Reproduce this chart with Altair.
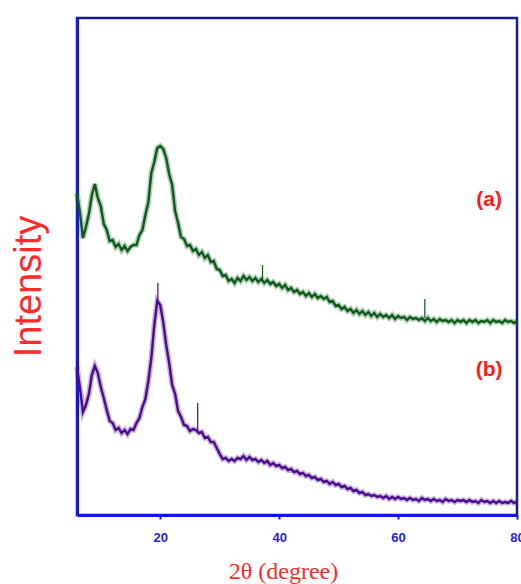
import altair as alt
import numpy as np
import pandas as pd

# 2-theta sampling grid (degrees)
two_theta = np.arange(6.0, 80.01, 0.5)

# Diffraction intensity (a.u.) of sample (a)
intensity_a = [
    322, 302, 277, 288, 301, 320, 331, 317, 309, 291,
    285, 274, 275, 268, 271, 265, 269, 264, 268, 270,
    270, 280, 285, 300, 313, 342, 353, 367, 369, 366,
    357, 341, 330, 304, 292, 278, 276, 269, 270, 264,
    266, 260, 263, 257, 260, 253, 254, 246, 245, 239,
    240, 234, 236, 232, 237, 234, 239, 235, 238, 234,
    237, 233, 236, 232, 235, 231, 233, 229, 231, 227,
    230, 225, 227, 223, 225, 221, 223, 219, 222, 218,
    221, 217, 219, 216, 218, 213, 214, 209, 210, 206,
    208, 204, 206, 202, 205, 201, 204, 200, 203, 199,
    202, 198, 201, 198, 200, 197, 200, 196, 199, 197,
    198, 195, 198, 196, 197, 195, 197, 194, 197, 194,
    196, 193, 196, 194, 195, 193, 195, 192, 195, 193,
    195, 192, 195, 193, 195, 192, 194, 193, 195, 192,
    195, 193, 194, 192, 195, 193, 194, 192, 194,
]

# Diffraction intensity (a.u.) of sample (b)
intensity_b = [
    148, 127, 103, 110, 121, 140, 149, 142, 128, 117,
    105, 94, 92, 85, 87, 82, 85, 81, 86, 85,
    92, 97, 108, 116, 134, 157, 190, 214, 210, 193,
    170, 152, 130, 121, 104, 98, 90, 89, 84, 86,
    85, 82, 83, 77, 78, 73, 73, 67, 61, 56,
    57, 54, 56, 54, 57, 56, 59, 55, 58, 55,
    56, 53, 55, 52, 54, 50, 52, 49, 50, 47,
    48, 45, 46, 43, 44, 41, 42, 39, 40, 37,
    38, 35, 36, 33, 34, 31, 33, 30, 31, 28,
    29, 26, 27, 24, 25, 22, 23, 20, 21, 19,
    20, 18, 19, 17, 19, 16, 18, 16, 18, 16,
    17, 15, 17, 15, 16, 14, 17, 15, 16, 14,
    16, 14, 15, 13, 16, 14, 15, 13, 15, 14,
    15, 13, 15, 13, 14, 12, 15, 13, 14, 12,
    14, 12, 14, 12, 13, 12, 14, 12, 13,
]

# Sharp single-point spikes in each pattern
spike_series = ["a", "a", "b", "b"]
spike_x = [37.2, 64.5, 26.3, 19.6]
spike_low = [236, 197, 83, 212]
spike_high = [250, 216, 112, 232]

# Curve labels
label_series = ["a", "b"]
label_text = ["(a)", "(b)"]
label_x = [75.3, 75.3]
label_y = [315, 145]

series_names = ["a", "b"]
series_colors = ["#0d5a1a", "#4a0c8c"]

patterns = pd.DataFrame({
    "two_theta": np.concatenate([two_theta, two_theta]),
    "intensity": intensity_a + intensity_b,
    "sample": ["a"] * len(intensity_a) + ["b"] * len(intensity_b),
})
spikes = pd.DataFrame({"sample": spike_series, "two_theta": spike_x,
                       "low": spike_low, "high": spike_high})
labels = pd.DataFrame({"sample": label_series, "text": label_text,
                       "two_theta": label_x, "intensity": label_y})

x_scale = alt.Scale(domain=[6, 80], nice=False, zero=False)
y_scale = alt.Scale(domain=[0, 497], nice=False, zero=False)
color = alt.Color("sample:N", scale=alt.Scale(domain=series_names, range=series_colors), legend=None)

x_axis = alt.Axis(
    values=[20, 40, 60, 80], grid=False, title="2θ (degree)",
    titleFont="Liberation Serif", titleFontSize=24, titleFontWeight="normal",
    titleColor="#ff2a2a", titleX=206, titleY=63, titleAlign="center",
    titleBaseline="alphabetic",
    labelFont="Liberation Sans", labelFontSize=13, labelFontWeight="bold",
    labelColor="#2424e0", labelPadding=12, labelFlush=False,
    domainColor="#1414e0", domainWidth=3, tickColor="#1414e0", tickSize=4, tickWidth=2,
)
y_axis = alt.Axis(
    labels=False, ticks=False, grid=False, title="Intensity",
    titleFont="Liberation Sans", titleFontSize=38, titleFontWeight="normal",
    titleColor="#ff2a2a", titleX=-37, titleY=268, titleAlign="center",
    titleBaseline="alphabetic", titleAngle=270,
    domainColor="#1414e0", domainWidth=3,
)

# soft outer band that gives the noisy trace its thickness
halo = alt.Chart(patterns).mark_line(strokeWidth=5.5, opacity=0.3, strokeJoin="miter").encode(
    x=alt.X("two_theta:Q", scale=x_scale, axis=x_axis),
    y=alt.Y("intensity:Q", scale=y_scale, axis=y_axis),
    color=color,
    detail="sample:N",
)

lines = alt.Chart(patterns).mark_line(strokeWidth=2.4, strokeJoin="miter").encode(
    x=alt.X("two_theta:Q", scale=x_scale),
    y=alt.Y("intensity:Q", scale=y_scale),
    color=color,
    detail="sample:N",
)

spike_rules = alt.Chart(spikes).mark_rule(strokeWidth=1.2).encode(
    x="two_theta:Q",
    y="low:Q",
    y2="high:Q",
    color=color,
)

label_marks = alt.Chart(labels).mark_text(
    font="Liberation Sans", fontSize=21, fontWeight="bold", color="#ff1a1a",
    align="center", baseline="middle",
).encode(x="two_theta:Q", y="intensity:Q", text="text:N")

chart = alt.layer(halo, lines, spike_rules, label_marks).properties(
    width=440, height=497,
    autosize=alt.AutoSizeParams(type="none"),
    padding={"left": 77, "top": 18, "right": 4, "bottom": 69},
).configure(
    background="white",
    view=alt.ViewConfig(stroke="#1a1a8c", strokeWidth=2.5),
)

chart.save("out.html", embed_options={"renderer": "svg", "actions": False})
